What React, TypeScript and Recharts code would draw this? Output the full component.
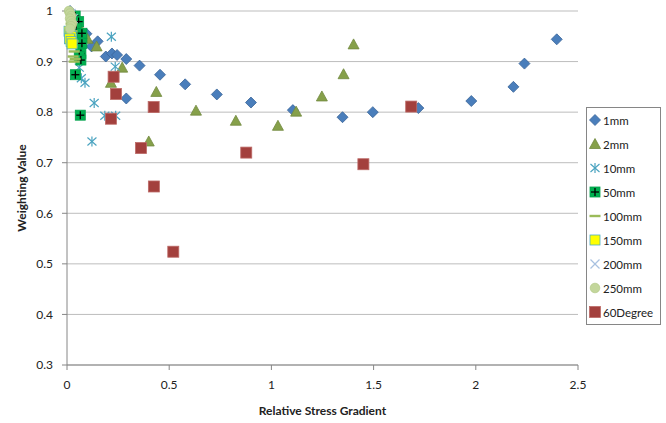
import { CartesianGrid, Scatter, ScatterChart, XAxis, YAxis } from "recharts"

// [relative stress gradient, weighting value]
const mm1 = [
  [0.015, 1.0], [0.095, 0.955], [0.12, 0.93], [0.15, 0.94], [0.19, 0.91], [0.22, 0.916], [0.245, 0.913],
  [0.29, 0.905], [0.29, 0.827], [0.355, 0.892], [0.455, 0.874], [0.578, 0.855], [0.733, 0.835],
  [0.9, 0.819], [1.105, 0.804], [1.348, 0.79], [1.496, 0.8], [1.719, 0.808], [1.978, 0.822],
  [2.184, 0.85], [2.238, 0.896], [2.396, 0.944],
]
const mm2 = [
  [0.03, 0.99], [0.06, 0.97], [0.1, 0.945], [0.145, 0.93], [0.215, 0.858], [0.27, 0.888],
  [0.4, 0.742], [0.437, 0.84], [0.631, 0.803], [0.826, 0.783], [1.032, 0.773], [1.121, 0.801],
  [1.247, 0.831], [1.353, 0.875], [1.402, 0.934],
]
const mm10 = [
  [0.02, 0.99], [0.04, 0.97], [0.06, 0.888], [0.07, 0.867], [0.088, 0.858], [0.122, 0.742],
  [0.133, 0.818], [0.185, 0.793], [0.217, 0.949], [0.236, 0.89], [0.238, 0.793],
]
const mm50 = [
  [0.04, 0.99], [0.057, 0.979], [0.045, 0.965], [0.073, 0.956], [0.073, 0.936], [0.068, 0.916],
  [0.06, 0.91], [0.068, 0.903], [0.041, 0.874], [0.065, 0.794],
]
const mm100 = [
  [0.02, 0.975], [0.025, 0.96], [0.02, 0.95], [0.03, 0.94], [0.025, 0.93], [0.035, 0.92],
  [0.03, 0.91], [0.04, 0.905], [0.035, 0.9],
]
const mm150 = [[0.01, 0.96], [0.015, 0.955], [0.02, 0.95], [0.012, 0.945], [0.02, 0.94], [0.025, 0.935]]
const mm200 = [[0.02, 0.995], [0.03, 0.985]]
const mm250 = [
  [0.01, 1.0], [0.015, 0.995], [0.02, 0.99], [0.015, 0.985], [0.02, 0.98], [0.025, 0.975],
  [0.02, 0.97], [0.015, 0.965],
]
const deg60 = [
  [0.215, 0.787], [0.228, 0.87], [0.24, 0.836], [0.362, 0.729], [0.424, 0.81], [0.425, 0.653],
  [0.52, 0.524], [0.877, 0.72], [1.45, 0.697], [1.684, 0.811],
]

const xTicks = [0, 0.5, 1, 1.5, 2, 2.5]
const yTicks = [0.3, 0.4, 0.5, 0.6, 0.7, 0.8, 0.9, 1]

const Diamond = ({ cx, cy }: any) => (
  <polygon points={`${cx},${cy - 5.5} ${cx + 5.5},${cy} ${cx},${cy + 5.5} ${cx - 5.5},${cy}`} fill="#4A7EBB" stroke="#3A6498" strokeWidth={0.8} />
)
const Triangle = ({ cx, cy }: any) => (
  <polygon points={`${cx},${cy - 5.5} ${cx + 5.5},${cy + 4.5} ${cx - 5.5},${cy + 4.5}`} fill="#86A04A" stroke="#71893F" strokeWidth={0.8} />
)
const Asterisk = ({ cx, cy }: any) => (
  <g stroke="#4AA3C0" strokeWidth={1.2}>
    <line x1={cx} y1={cy - 5} x2={cx} y2={cy + 5} />
    <line x1={cx - 4.5} y1={cy - 4} x2={cx + 4.5} y2={cy + 4} />
    <line x1={cx - 4.5} y1={cy + 4} x2={cx + 4.5} y2={cy - 4} />
  </g>
)
const PlusSquare = ({ cx, cy }: any) => (
  <g>
    <rect x={cx - 5} y={cy - 5} width={10} height={10} fill="#00B050" stroke="#00A04A" strokeWidth={0.8} />
    <line x1={cx - 4} y1={cy} x2={cx + 4} y2={cy} stroke="#000" strokeWidth={1.3} />
    <line x1={cx} y1={cy - 4} x2={cx} y2={cy + 4} stroke="#000" strokeWidth={1.3} />
  </g>
)
const Dash = ({ cx, cy }: any) => <rect x={cx - 5.5} y={cy - 1.2} width={11} height={2.4} fill="#9BBB59" />
const YellowSquare = ({ cx, cy }: any) => (
  <rect x={cx - 5} y={cy - 5} width={10} height={10} fill="#FFFF00" stroke="#4BACC6" strokeWidth={0.8} />
)
const XMark = ({ cx, cy }: any) => (
  <g stroke="#A9C1E0" strokeWidth={1.2}>
    <line x1={cx - 4.5} y1={cy - 4.5} x2={cx + 4.5} y2={cy + 4.5} />
    <line x1={cx - 4.5} y1={cy + 4.5} x2={cx + 4.5} y2={cy - 4.5} />
  </g>
)
const Dot = ({ cx, cy }: any) => <circle cx={cx} cy={cy} r={4.8} fill="#C3D69B" stroke="#B6CB8B" strokeWidth={0.8} />
const RedSquare = ({ cx, cy }: any) => (
  <rect x={cx - 5.5} y={cy - 5.5} width={11} height={11} fill="#A3403D" stroke="#BC6A67" strokeWidth={0.8} />
)

const series = [
  { name: "1mm", data: mm1, shape: Diamond },
  { name: "2mm", data: mm2, shape: Triangle },
  { name: "10mm", data: mm10, shape: Asterisk },
  { name: "50mm", data: mm50, shape: PlusSquare },
  { name: "100mm", data: mm100, shape: Dash },
  { name: "150mm", data: mm150, shape: YellowSquare },
  { name: "200mm", data: mm200, shape: XMark },
  { name: "250mm", data: mm250, shape: Dot },
  { name: "60Degree", data: deg60, shape: RedSquare },
]

const font = "Lato, 'Open Sans', sans-serif"

export default function App() {
  return (
    <div style={{ position: "absolute", left: 0, top: 0, width: 666, height: 423, background: "#fff", fontFamily: font }}>
      <ScatterChart width={666} height={423} margin={{ top: 11, right: 88, bottom: 0, left: 0 }}>
        <CartesianGrid vertical={false} stroke="#BDBDBD" />
        <XAxis
          type="number"
          dataKey="x"
          domain={[0, 2.5]}
          ticks={xTicks}
          height={58}
          stroke="#868686"
          tickSize={5}
          tickMargin={10}
          tick={{ fill: "#222", fontSize: 12, fontFamily: font }}
          label={{ value: "Relative Stress Gradient", position: "insideBottom", offset: 8, style: { fontWeight: "bold", fill: "#222", fontSize: 12, fontFamily: font } }}
        />
        <YAxis
          type="number"
          dataKey="y"
          domain={[0.3, 1]}
          ticks={yTicks}
          width={67}
          stroke="#868686"
          tickSize={5}
          tickMargin={9}
          tick={{ fill: "#222", fontSize: 12, fontFamily: font }}
          label={{ value: "Weighting Value", angle: -90, position: "insideLeft", offset: 22, style: { textAnchor: "middle", fontWeight: "bold", fill: "#222", fontSize: 12, fontFamily: font } }}
        />
        {series.map((s) => (
          <Scatter
            key={s.name}
            name={s.name}
            data={s.data.map(([x, y]) => ({ x, y }))}
            shape={s.shape}
            isAnimationActive={false}
          />
        ))}
      </ScatterChart>
      <div
        style={{
          position: "absolute",
          left: 586,
          top: 107,
          width: 75,
          height: 218,
          border: "1px solid #868686",
          boxSizing: "border-box",
        }}
      >
        {series.map((s) => {
          const Icon = s.shape
          return (
            <div key={s.name} style={{ display: "flex", alignItems: "center", height: 24, fontSize: 11.5, color: "#222", whiteSpace: "nowrap" }}>
              <svg width={16} height={14}>
                <Icon cx={8} cy={7} />
              </svg>
              <span>{s.name}</span>
            </div>
          )
        })}
      </div>
    </div>
  )
}
